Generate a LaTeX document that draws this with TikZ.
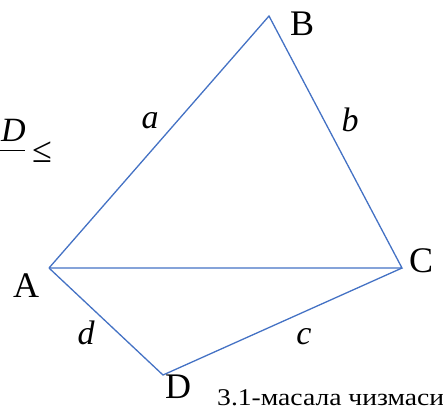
\documentclass[tikz,border=0pt]{standalone}
\usepackage{fontspec}
\setmainfont{Liberation Serif}
\begin{document}
\begin{tikzpicture}[x=1pt,y=-1pt]
\definecolor{lineblue}{HTML}{4472C4}
\tikzset{
  edge/.style={draw=lineblue, line width=1.3pt},
  vlabel/.style={font=\fontsize{36}{40}\selectfont, inner sep=0pt},
  slabel/.style={font=\fontsize{34}{40}\selectfont\itshape, inner sep=0pt}}
\useasboundingbox (0,0) rectangle (443,405);
\coordinate (A) at (49,268);
\coordinate (B) at (269,16);
\coordinate (C) at (402,268);
\coordinate (D) at (163,375);
\draw[edge] (A) -- (B) -- (C) -- (A);
\draw[edge] (A) -- (D) -- (C);
\node[vlabel] (lA) at (26,286) {A};
\node[vlabel] (lB) at (302,24) {B};
\node[vlabel] (lC) at (421,261) {C};
\node[vlabel] (lD) at (178,387) {D};
\node[slabel] (la) at (150,121) {a};
\node[slabel] (lb) at (350,120) {b};
\node[slabel] (lc) at (304,337) {c};
\node[slabel] (ld) at (86,333) {d};
\node[anchor=base west, inner sep=0pt, font=\fontsize{34}{40}\selectfont\itshape] (fD) at (1,141) {D};
\draw[line width=1pt] (0,150) -- (25,150);
\node[anchor=base west, inner sep=0pt, font=\fontsize{36}{40}\selectfont] (le) at (32,162) {≤};
\node[anchor=base west, inner sep=0pt, font=\fontsize{24}{28}\selectfont, xscale=1.15] (cap) at (217,405) {3.1-масала чизмаси};
\end{tikzpicture}
\end{document}
